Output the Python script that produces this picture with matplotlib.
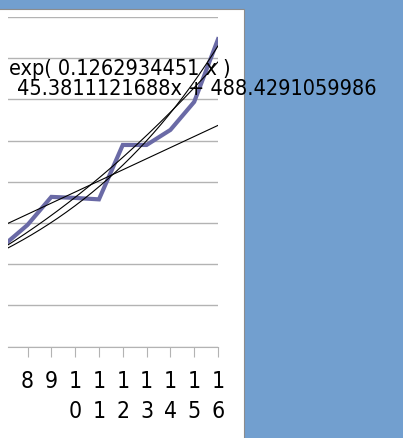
import numpy as np
import matplotlib
matplotlib.use("Agg")
import matplotlib.pyplot as plt
from matplotlib.patches import Rectangle

# categories and values (y in chart units, gridline step 200)
categories = [7, 8, 9, 10, 11, 12, 13, 14, 15, 16]
values = [492, 591, 727, 722, 715, 979, 979, 1052, 1188, 1492]

# trend lines as seen in the chart
lin_slope, lin_icpt = 53.9, 211.6
exp_a, exp_b = 193.5, 0.1263
quad_pts_x = [7.18, 11.4, 16.0]
quad_pts_y = [494, 858, 1382]

eq_exp = "exp( 0.1262934451 x )"
eq_lin = "45.3811121688x + 488.4291059986"

W, H = 403, 438
fig = plt.figure(figsize=(W / 100, H / 100), dpi=100, facecolor="#729fcf")

# white chart page with grey border at top and right
fig.patches.append(Rectangle((-0.01, -0.01), 243.5 / W + 0.01, (H - 9) / H + 0.01,
                             transform=fig.transFigure, facecolor="white",
                             edgecolor="#8c8c8c", lw=0.8, zorder=-1))

ax = fig.add_axes([8 / W, (H - 346.7) / H, 210 / W, 329.7 / H])
ax.set_facecolor("none")
ax.set_zorder(1)

xs = np.linspace(7, 16, 200)
ax.plot(categories, values, color="#6a6aa6", lw=3, solid_joinstyle="miter", zorder=3)
ax.plot(xs, lin_slope * xs + lin_icpt, color="black", lw=0.8, zorder=4)
ax.plot(xs, exp_a * np.exp(exp_b * xs), color="black", lw=0.8, zorder=4)
q = np.polyfit(quad_pts_x, quad_pts_y, 2)
ax.plot(xs, np.polyval(q, xs), color="black", lw=0.8, zorder=4)

ax.set_xlim(7.18, 16)
ax.set_ylim(0, 1600)
ax.set_yticks(np.arange(0, 1601, 200))
ax.yaxis.grid(True, color="#b3b3b3", lw=1)
ax.set_axisbelow(True)
ax.tick_params(axis="y", left=False, labelleft=False)
for s in ["left", "right", "top"]:
    ax.spines[s].set_visible(False)
ax.spines["bottom"].set_color("#b3b3b3")

ax.set_xticks(categories[1:])
ax.set_xticklabels(["\n".join(str(c)) for c in categories[1:]],
                   fontfamily="DejaVu Sans", fontstretch="condensed",
                   linespacing=1.4)
ax.tick_params(axis="x", direction="out", length=7.5, color="#b3b3b3", pad=9,
               labelsize=16.5)

txt = dict(fontsize=15.5, family="DejaVu Sans", stretch="condensed",
           ha="left", va="baseline", zorder=10)
fig.text(9 / W, 1 - 75 / H, eq_exp, **txt)
fig.text(16.7 / W, 1 - 95 / H, eq_lin, **txt)

fig.savefig("out.png", dpi=100, facecolor=fig.get_facecolor())
